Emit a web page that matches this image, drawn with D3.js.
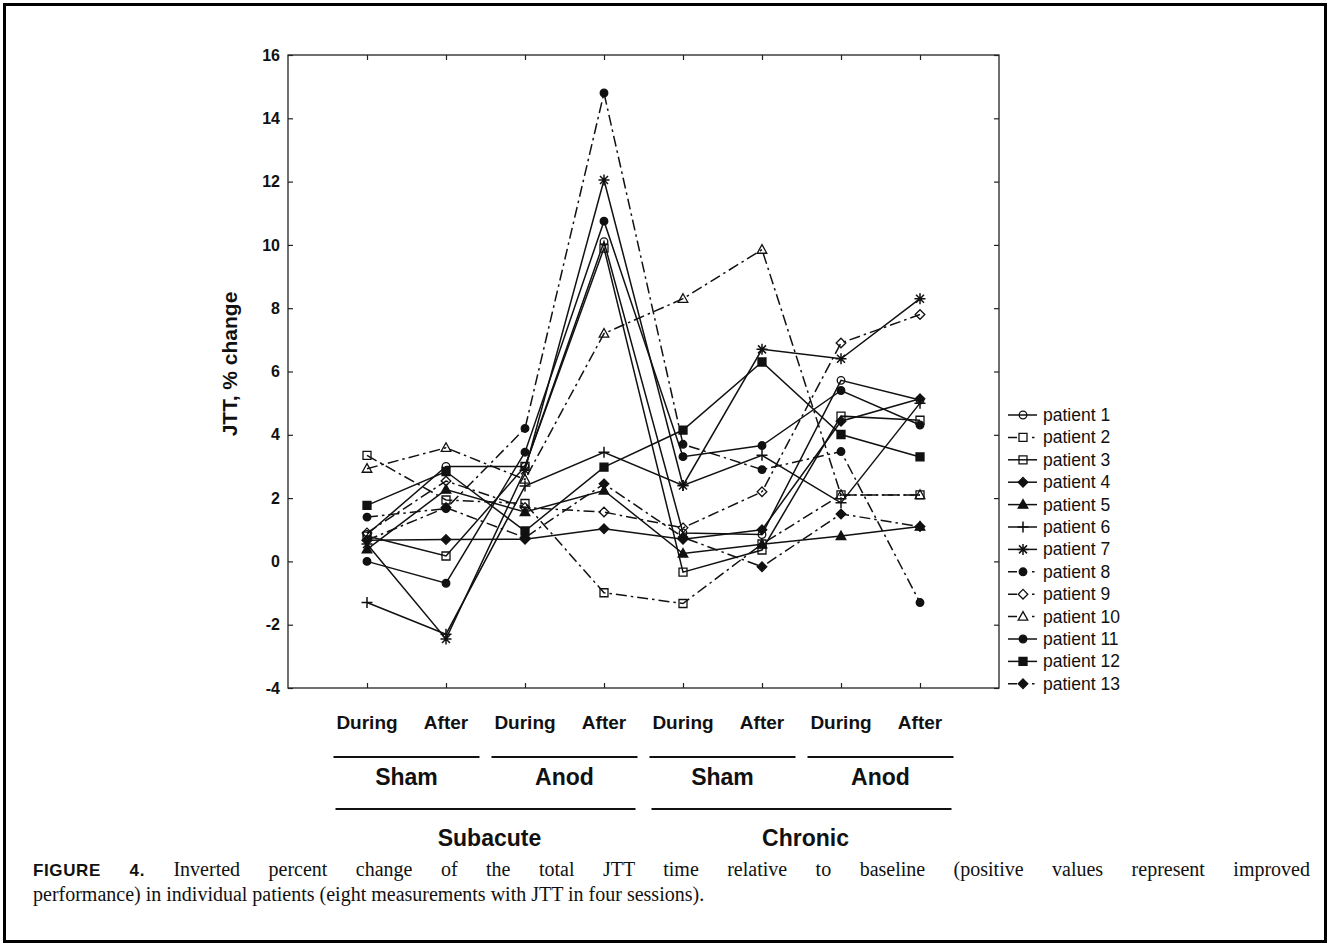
<!DOCTYPE html>
<html>
<head>
<meta charset="utf-8">
<script src="https://cdnjs.cloudflare.com/ajax/libs/d3/7.8.5/d3.min.js"></script>
<style>
    body { margin: 0; background: #fff; }
    #chart { position: relative; width: 1330px; height: 946px; }
    .caption {
        position: absolute;
        left: 33px;
        width: 1277px;
        font-family: "Liberation Serif", "Times New Roman", serif;
        font-size: 20px;
        color: #111;
        line-height: 24px;
        white-space: nowrap;
    }
    .caption.first { text-align: justify; text-align-last: justify; white-space: normal; }
    .caption b { font-family: "Liberation Sans", Arial, sans-serif; font-size: 17px; letter-spacing: 0.6px; }
</style>
</head>
<body>
<div id="chart"></div>
<script>

// x categories and group labels
var categories = ["During", "After", "During", "After", "During", "After", "During", "After"];
var sessions = ["Sham", "Anod", "Sham", "Anod"];
var stages = ["Subacute", "Chronic"];
var yTicks = [-4, -2, 0, 2, 4, 6, 8, 10, 12, 14, 16];

// values (inverted % change of JTT)
var patient1  = [0.85, 3.0, 3.0, 10.1, 0.9, 0.85, 5.72, 5.1];
var patient2  = [3.35, 1.94, 1.83, -0.99, -1.33, 0.55, 2.1, 2.1];
var patient3  = [0.8, 0.17, 3.0, 9.9, -0.34, 0.36, 4.59, 4.46];
var patient4  = [0.67, 0.69, 0.7, 1.03, 0.7, 1.0, 4.43, 5.14];
var patient5  = [0.38, 2.27, 1.56, 2.24, 0.25, 0.54, 0.8, 1.1];
var patient6  = [-1.3, -2.3, 2.38, 3.45, 2.4, 3.35, 1.85, 5.0];
var patient7  = [0.55, -2.45, 2.88, 12.05, 2.4, 6.7, 6.4, 8.3];
var patient8  = [1.4, 1.67, 4.2, 14.8, 3.7, 2.9, 3.47, -1.3];
var patient9  = [0.9, 2.54, 1.7, 1.56, 1.06, 2.2, 6.9, 7.8];
var patient10 = [2.93, 3.59, 2.59, 7.2, 8.3, 9.85, 2.1, 2.1];
var patient11 = [0.0, -0.69, 3.45, 10.75, 3.31, 3.66, 5.4, 4.31];
var patient12 = [1.77, 2.84, 0.96, 2.98, 4.15, 6.3, 4.01, 3.3];
var patient13 = [0.67, 1.7, 0.75, 2.45, 0.76, -0.17, 1.5, 1.1];

var patientNames = ["patient 1", "patient 2", "patient 3", "patient 4", "patient 5", "patient 6", "patient 7",
    "patient 8", "patient 9", "patient 10", "patient 11", "patient 12", "patient 13"];

var series = [patient1, patient2, patient3, patient4, patient5, patient6, patient7,
    patient8, patient9, patient10, patient11, patient12, patient13];

// marker / line style per patient
var styles = [
    { shape: "circle",   filled: false, dashed: false },
    { shape: "square",   filled: false, dashed: true },
    { shape: "square",   filled: false, dashed: false },
    { shape: "diamond",  filled: true,  dashed: false },
    { shape: "triangle", filled: true,  dashed: false },
    { shape: "plus",     filled: false, dashed: false },
    { shape: "asterisk", filled: false, dashed: false },
    { shape: "circle",   filled: true,  dashed: true },
    { shape: "diamond",  filled: false, dashed: true },
    { shape: "triangle", filled: false, dashed: true },
    { shape: "circle",   filled: true,  dashed: false },
    { shape: "square",   filled: true,  dashed: false },
    { shape: "diamond",  filled: true,  dashed: true }
];

var ink = "#111";

function markerPath(shape) {
    var p = d3.path();
    if (shape == "circle") {
        p.arc(0, 0, 3.8, 0, 2 * Math.PI);
    } else if (shape == "square") {
        p.rect(-4, -4, 8, 8);
    } else if (shape == "diamond") {
        p.moveTo(0, -4.8); p.lineTo(4.8, 0); p.lineTo(0, 4.8); p.lineTo(-4.8, 0); p.closePath();
    } else if (shape == "triangle") {
        p.moveTo(0, -5); p.lineTo(4.8, 3.6); p.lineTo(-4.8, 3.6); p.closePath();
    } else if (shape == "plus") {
        p.moveTo(-5.5, 0); p.lineTo(5.5, 0); p.moveTo(0, -5.5); p.lineTo(0, 5.5);
    } else if (shape == "asterisk") {
        p.moveTo(-5.5, 0); p.lineTo(5.5, 0); p.moveTo(0, -5.5); p.lineTo(0, 5.5);
        p.moveTo(-4, -4); p.lineTo(4, 4); p.moveTo(-4, 4); p.lineTo(4, -4);
    }
    return p.toString();
}

function drawMarker(sel, st) {
    var line = (st.shape == "plus" || st.shape == "asterisk");
    sel.attr("d", markerPath(st.shape))
        .attr("fill", (st.filled && !line) ? ink : "none")
        .attr("stroke", ink)
        .attr("stroke-width", line ? 1.5 : 1.3);
}

var W = 1330, H = 946;
var box = { left: 288, right: 999, top: 55, bottom: 688 };

var svg = d3.select("#chart")
    .append("svg")
    .attr("width", W)
    .attr("height", H)
    .style("position", "absolute")
    .style("left", 0)
    .style("top", 0);

// outer frame
svg.append("rect")
    .attr("x", 4.5).attr("y", 4.5)
    .attr("width", W - 9).attr("height", H - 9)
    .attr("fill", "none")
    .attr("stroke", "#000")
    .attr("stroke-width", 3);

var x = d3.scalePoint()
    .domain(d3.range(categories.length))
    .range([box.left, box.right])
    .padding(1);

var y = d3.scaleLinear()
    .domain([-4, 16])
    .range([box.bottom, box.top]);

// plot box
svg.append("rect")
    .attr("x", box.left).attr("y", box.top)
    .attr("width", box.right - box.left)
    .attr("height", box.bottom - box.top)
    .attr("fill", "none")
    .attr("stroke", "#222")
    .attr("stroke-width", 1.3);

var yAxis = svg.append("g")
    .attr("transform", "translate(" + box.left + ",0)")
    .call(d3.axisLeft(y).tickValues(yTicks).tickSize(-5).tickPadding(8)
        .tickFormat(function(d) { return String(d); }));
yAxis.select(".domain").remove();
yAxis.selectAll("text")
    .attr("font-family", "Liberation Sans, Arial, sans-serif")
    .attr("font-weight", "bold")
    .attr("font-size", "16px")
    .attr("fill", ink);

var yAxisR = svg.append("g")
    .attr("transform", "translate(" + box.right + ",0)")
    .call(d3.axisRight(y).tickValues(yTicks).tickSize(-5).tickFormat(""));
yAxisR.select(".domain").remove();

var xAxis = svg.append("g")
    .attr("transform", "translate(0," + box.bottom + ")")
    .call(d3.axisBottom(x).tickSize(-5).tickFormat(""));
xAxis.select(".domain").remove();

var xAxisT = svg.append("g")
    .attr("transform", "translate(0," + box.top + ")")
    .call(d3.axisTop(x).tickSize(-5).tickFormat(""));
xAxisT.select(".domain").remove();

svg.selectAll(".tick line").attr("stroke", "#222").attr("stroke-width", 1.2);

// y label
svg.append("text")
    .attr("transform", "translate(237," + 364 + ") rotate(-90)")
    .attr("text-anchor", "middle")
    .attr("font-family", "Liberation Sans, Arial, sans-serif")
    .attr("font-weight", "bold")
    .attr("font-size", "21px")
    .attr("fill", ink)
    .text("JTT, % change");

// category labels
var labelFont = "Liberation Sans, Arial, sans-serif";
svg.selectAll(".cat-label")
    .data(categories)
    .enter().append("text")
    .attr("class", "cat-label")
    .attr("x", function(d, i) { return x(i); })
    .attr("y", 729)
    .attr("text-anchor", "middle")
    .attr("font-family", labelFont)
    .attr("font-weight", "bold")
    .attr("font-size", "19px")
    .attr("fill", ink)
    .text(function(d) { return d; });

// session groups (two categories each)
sessions.forEach(function(s, k) {
    var cx = (x(2 * k) + x(2 * k + 1)) / 2;
    svg.append("line")
        .attr("x1", cx - 73).attr("x2", cx + 73)
        .attr("y1", 757).attr("y2", 757)
        .attr("stroke", ink).attr("stroke-width", 2.2);
    svg.append("text")
        .attr("x", cx).attr("y", 785)
        .attr("text-anchor", "middle")
        .attr("font-family", labelFont)
        .attr("font-weight", "bold")
        .attr("font-size", "23px")
        .attr("fill", ink)
        .text(s);
});

// stage groups (four categories each)
stages.forEach(function(s, k) {
    var cx = (x(4 * k) + x(4 * k + 3)) / 2;
    svg.append("line")
        .attr("x1", cx - 150).attr("x2", cx + 150)
        .attr("y1", 809).attr("y2", 809)
        .attr("stroke", ink).attr("stroke-width", 2.2);
    svg.append("text")
        .attr("x", cx + 4).attr("y", 846)
        .attr("text-anchor", "middle")
        .attr("font-family", labelFont)
        .attr("font-weight", "bold")
        .attr("font-size", "23px")
        .attr("fill", ink)
        .text(s);
});

// lines
var dashPattern = "11,4,2.5,4";
var line = d3.line()
    .x(function(d, i) { return x(i); })
    .y(function(d) { return y(d); });

svg.selectAll(".series")
    .data(series)
    .enter().append("path")
    .attr("class", "series")
    .attr("d", line)
    .attr("fill", "none")
    .attr("stroke", ink)
    .attr("stroke-width", 1.5)
    .attr("stroke-dasharray", function(d, i) { return styles[i].dashed ? dashPattern : null; });

// markers
series.forEach(function(vals, i) {
    svg.selectAll(".m" + i)
        .data(vals)
        .enter().append("path")
        .attr("class", "m" + i)
        .attr("transform", function(d, j) { return "translate(" + x(j) + "," + y(d) + ")"; })
        .call(drawMarker, styles[i]);
});

// legend
var legend = svg.append("g").attr("transform", "translate(1008,415)");
var rowH = 22.4;
patientNames.forEach(function(name, i) {
    var g = legend.append("g").attr("transform", "translate(0," + (i * rowH) + ")");
    g.append("line")
        .attr("x1", 0).attr("x2", 29)
        .attr("y1", 0).attr("y2", 0)
        .attr("stroke", ink)
        .attr("stroke-width", 1.5)
        .attr("stroke-dasharray", styles[i].dashed ? "9,15,2.5,20" : null);
    g.append("path")
        .attr("transform", "translate(15,0)")
        .call(drawMarker, styles[i]);
    g.append("text")
        .attr("x", 35).attr("y", 6)
        .attr("font-family", labelFont)
        .attr("font-size", "17.5px")
        .attr("fill", ink)
        .text(name);
});

// caption
var chart = d3.select("#chart");
chart.append("div")
    .attr("class", "caption first")
    .style("top", "857px")
    .html("<b>FIGURE 4.</b> Inverted percent change of the total JTT time relative to baseline (positive values represent improved");
chart.append("div")
    .attr("class", "caption")
    .style("top", "882px")
    .text("performance) in individual patients (eight measurements with JTT in four sessions).");

</script>
</body>
</html>
